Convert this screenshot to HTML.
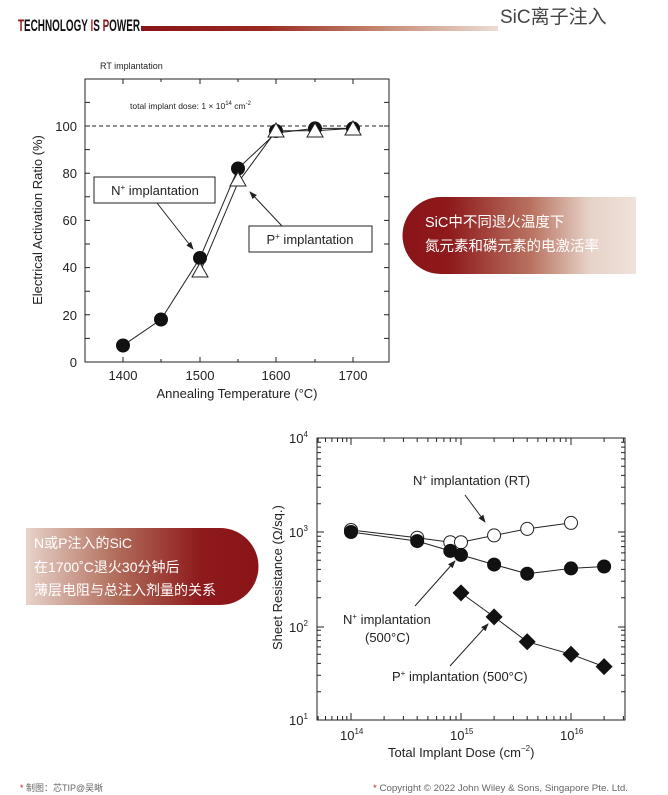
<!DOCTYPE html>
<html><head><meta charset="utf-8"><style>
html,body{margin:0;padding:0;background:#fff;width:668px;height:795px;overflow:hidden}
svg{display:block}
text{font-family:"Liberation Sans","Noto Sans CJK SC",sans-serif}
</style></head><body>
<svg width="668" height="795" viewBox="0 0 668 795" xmlns="http://www.w3.org/2000/svg">
<defs>
<linearGradient id="hb" x1="0" x2="1"><stop offset="0" stop-color="#8a1418"/><stop offset="0.35" stop-color="#9a2a22"/><stop offset="0.7" stop-color="#c8917a"/><stop offset="1" stop-color="#eddcd4"/></linearGradient>
<linearGradient id="c1" x1="0" x2="1"><stop offset="0" stop-color="#8a1418"/><stop offset="0.2" stop-color="#8e1a1c"/><stop offset="0.55" stop-color="#b97260"/><stop offset="0.8" stop-color="#e6d2c8"/><stop offset="1" stop-color="#efe2dc"/></linearGradient>
<linearGradient id="c2" x1="1" x2="0"><stop offset="0" stop-color="#8a1418"/><stop offset="0.25" stop-color="#8e1a1c"/><stop offset="0.6" stop-color="#b06a58"/><stop offset="1" stop-color="#e7d3ca"/></linearGradient>
<marker id="ar" markerWidth="8" markerHeight="6" refX="7" refY="3" orient="auto"><path d="M0,0 L8,3 L0,6z" fill="#222"/></marker>
</defs>
<!-- header -->
<text x="18" y="31" font-size="17" font-weight="bold" textLength="122" lengthAdjust="spacingAndGlyphs" fill="#111"><tspan fill="#8a1418">T</tspan>ECHNOLOGY <tspan fill="#c0202a">I</tspan>S <tspan fill="#8a1418">P</tspan>OWER</text>
<rect x="141" y="26" width="357" height="5" fill="url(#hb)"/>
<text x="500" y="23" font-size="19" fill="#444">SiC离子注入</text>
<!-- callout 1 -->
<path d="M441,197 H636 V274 H441 A38.5,38.5 0 0 1 441,197z" fill="url(#c1)"/>
<text x="425" y="227" font-size="14.5" fill="#fff">SiC中不同退火温度下</text>
<text x="425" y="251" font-size="14.5" fill="#fff">氮元素和磷元素的电激活率</text>
<!-- callout 2 -->
<path d="M26,528 H220 A38.5,38.5 0 0 1 220,605 H26z" fill="url(#c2)"/>
<text x="34" y="548" font-size="14" fill="#fff">N或P注入的SiC</text>
<text x="34" y="572" font-size="14" fill="#fff">在1700˚C退火30分钟后</text>
<text x="34" y="595" font-size="14" fill="#fff">薄层电阻与总注入剂量的关系</text>

<!-- chart 1 -->
<g stroke="#222" fill="none" stroke-width="1">
<rect x="85" y="79" width="304" height="283"/>
<line x1="85" y1="126" x2="389" y2="126" stroke-dasharray="4,3"/>
<path d="M85,338.4h5M85,314.8h5M85,291.2h5M85,267.6h5M85,244h5M85,220.4h5M85,196.8h5M85,173.2h5M85,149.6h5M85,126h5M85,102.4h5
M389,338.4h-5M389,314.8h-5M389,291.2h-5M389,267.6h-5M389,244h-5M389,220.4h-5M389,196.8h-5M389,173.2h-5M389,149.6h-5M389,126h-5M389,102.4h-5
M123,362v-5M161,362v-3M200,362v-5M238,362v-3M276,362v-5M315,362v-3M353,362v-5
M123,79v5M161,79v3M200,79v5M238,79v3M276,79v5M315,79v3M353,79v5"/>
<polyline points="123,345.5 161,319.5 200,258 238,168.5 276,133 315,128.4 353,128.4"/>
<polyline points="200,272.3 238,182.6 276,130.7 315,130.7 353,128.4"/>
<rect x="94" y="177" width="121" height="26" fill="#fff"/>
<rect x="249" y="226" width="123" height="26" fill="#fff"/>
<line x1="157" y1="203" x2="193" y2="249" marker-end="url(#ar)"/>
<line x1="282" y1="226" x2="250" y2="192" marker-end="url(#ar)"/>
</g>
<g fill="#111">
<circle cx="123" cy="345.5" r="7"/><circle cx="161" cy="319.5" r="7"/><circle cx="200" cy="258" r="7"/><circle cx="238" cy="168.5" r="7"/><circle cx="276" cy="131" r="7"/><circle cx="315" cy="128.4" r="7"/><circle cx="353" cy="128.4" r="7"/>
</g>
<g fill="#fff" stroke="#222">
<path d="M200,263 l8,14 h-16z"/><path d="M238,172 l8,14 h-16z"/><path d="M276,123 l8,14 h-16z"/><path d="M315,123 l8,14 h-16z"/><path d="M353,121 l8,14 h-16z"/>
</g>
<g font-size="13" fill="#222" text-anchor="end">
<text x="77" y="367">0</text><text x="77" y="320">20</text><text x="77" y="272">40</text><text x="77" y="225">60</text><text x="77" y="178">80</text><text x="77" y="131">100</text>
</g>
<g font-size="13" fill="#222" text-anchor="middle">
<text x="123" y="380">1400</text><text x="200" y="380">1500</text><text x="276" y="380">1600</text><text x="353" y="380">1700</text>
<text x="237" y="398">Annealing Temperature (°C)</text>
<text transform="translate(42,220) rotate(-90)">Electrical Activation Ratio (%)</text>
<text x="155" y="195">N<tspan font-size="8" dy="-5">+</tspan><tspan dy="5"> implantation</tspan></text>
<text x="310" y="244">P<tspan font-size="8" dy="-5">+</tspan><tspan dy="5"> implantation</tspan></text>
</g>
<text x="100" y="69" font-size="9" fill="#222">RT implantation</text>
<text x="130" y="109" font-size="8.5" fill="#222">total implant dose: 1 × 10<tspan font-size="6" dy="-4">14</tspan><tspan dy="4"> cm</tspan><tspan font-size="6" dy="-4">-2</tspan></text>

<!-- chart 2 -->
<g stroke="#222" fill="none" stroke-width="1">
<rect x="317" y="438" width="308" height="282"/>
<path d="M317,532h7M317,627h7M625,532h-7M625,627h-7
M317,691.7h4M317,675.2h4M317,663.4h4M317,654.3h4M317,646.9h4M317,640.6h4M317,635.1h4M317,630.3h4
M317,597.7h4M317,581.2h4M317,569.4h4M317,560.3h4M317,552.9h4M317,546.6h4M317,541.1h4M317,536.3h4
M317,503.7h4M317,487.2h4M317,475.4h4M317,466.3h4M317,458.9h4M317,452.6h4M317,447.1h4M317,442.3h4
M625,691.7h-4M625,675.2h-4M625,663.4h-4M625,654.3h-4M625,646.9h-4M625,640.6h-4M625,635.1h-4M625,630.3h-4
M625,597.7h-4M625,581.2h-4M625,569.4h-4M625,560.3h-4M625,552.9h-4M625,546.6h-4M625,541.1h-4M625,536.3h-4
M625,503.7h-4M625,487.2h-4M625,475.4h-4M625,466.3h-4M625,458.9h-4M625,452.6h-4M625,447.1h-4M625,442.3h-4
M351,720v-7M461,720v-7M571,720v-7M351,438v7M461,438v7M571,438v7
M318.1,720v-4M325.5,720v-4M331.9,720v-4M337.5,720v-4M342.6,720v-4M346.8,720v-4
M384.1,720v-4M403.4,720v-4M417.2,720v-4M427.9,720v-4M436.6,720v-4M443.9,720v-4M450.3,720v-4M456,720v-4
M494.1,720v-4M513.4,720v-4M527.2,720v-4M537.9,720v-4M546.6,720v-4M553.9,720v-4M560.3,720v-4M566,720v-4
M604.1,720v-4M623.4,720v-4
M318.1,438v4M325.5,438v4M331.9,438v4M337.5,438v4M342.6,438v4M346.8,438v4
M384.1,438v4M403.4,438v4M417.2,438v4M427.9,438v4M436.6,438v4M443.9,438v4M450.3,438v4M456,438v4
M494.1,438v4M513.4,438v4M527.2,438v4M537.9,438v4M546.6,438v4M553.9,438v4M560.3,438v4M566,438v4
M604.1,438v4M623.4,438v4"/>
<polyline points="351,530 417.2,537.7 450.3,542.2 461,542.2 494.1,535.4 527.2,528.9 571,522.9"/>
<polyline points="351,532 417.2,541.1 450.3,550.9 461,554.9 494.1,564.6 527.2,573.7 571,568.4 604.1,566.5"/>
<polyline points="461,592.9 494.1,616.9 527.2,641.7 571,654.3 604.1,666.6"/>
<line x1="465" y1="495" x2="485" y2="522" marker-end="url(#ar)"/>
<line x1="415" y1="606" x2="455" y2="561" marker-end="url(#ar)"/>
<line x1="450" y1="666" x2="488" y2="624" marker-end="url(#ar)"/>
</g>
<g fill="#fff" stroke="#222">
<circle cx="351" cy="530" r="6.5"/><circle cx="417.2" cy="537.7" r="6.5"/><circle cx="450.3" cy="542.2" r="6.5"/><circle cx="461" cy="542.2" r="6.5"/><circle cx="494.1" cy="535.4" r="6.5"/><circle cx="527.2" cy="528.9" r="6.5"/><circle cx="571" cy="522.9" r="6.5"/>
</g>
<g fill="#111">
<circle cx="351" cy="532" r="7"/><circle cx="417.2" cy="541.1" r="7"/><circle cx="450.3" cy="550.9" r="7"/><circle cx="461" cy="554.9" r="7"/><circle cx="494.1" cy="564.6" r="7"/><circle cx="527.2" cy="573.7" r="7"/><circle cx="571" cy="568.4" r="7"/><circle cx="604.1" cy="566.5" r="7"/>
<path d="M461,584.4l8.5,8.5l-8.5,8.5l-8.5,-8.5z"/><path d="M494.1,608.4l8.5,8.5l-8.5,8.5l-8.5,-8.5z"/><path d="M527.2,633.2l8.5,8.5l-8.5,8.5l-8.5,-8.5z"/><path d="M571,645.8l8.5,8.5l-8.5,8.5l-8.5,-8.5z"/><path d="M604.1,658.1l8.5,8.5l-8.5,8.5l-8.5,-8.5z"/>
</g>
<g font-size="13" fill="#222">
<text x="289" y="443">10<tspan font-size="8" dy="-6">4</tspan></text>
<text x="289" y="537">10<tspan font-size="8" dy="-6">3</tspan></text>
<text x="289" y="632">10<tspan font-size="8" dy="-6">2</tspan></text>
<text x="289" y="725">10<tspan font-size="8" dy="-6">1</tspan></text>
<text x="340" y="740">10<tspan font-size="8" dy="-6">14</tspan></text>
<text x="450" y="740">10<tspan font-size="8" dy="-6">15</tspan></text>
<text x="560" y="740">10<tspan font-size="8" dy="-6">16</tspan></text>
<text x="388" y="757">Total Implant Dose (cm<tspan font-size="8" dy="-6">−2</tspan><tspan dy="6">)</tspan></text>
<text transform="translate(282,650) rotate(-90)">Sheet Resistance (Ω/sq.)</text>
<text x="413" y="485">N<tspan font-size="8" dy="-5">+</tspan><tspan dy="5"> implantation (RT)</tspan></text>
<text x="343" y="624">N<tspan font-size="8" dy="-5">+</tspan><tspan dy="5"> implantation</tspan></text>
<text x="365" y="642">(500°C)</text>
<text x="392" y="681">P<tspan font-size="8" dy="-5">+</tspan><tspan dy="5"> implantation (500°C)</tspan></text>
</g>
<!-- footer -->
<text x="20" y="791" font-size="9" fill="#666"><tspan fill="#c0202a">*</tspan> 制图：芯TIP@吴晰</text>
<text x="373" y="791" font-size="9.5" fill="#666" textLength="255" lengthAdjust="spacingAndGlyphs"><tspan fill="#c0202a">*</tspan> Copyright © 2022 John Wiley &amp; Sons, Singapore Pte. Ltd.</text>
</svg>
</body></html>
